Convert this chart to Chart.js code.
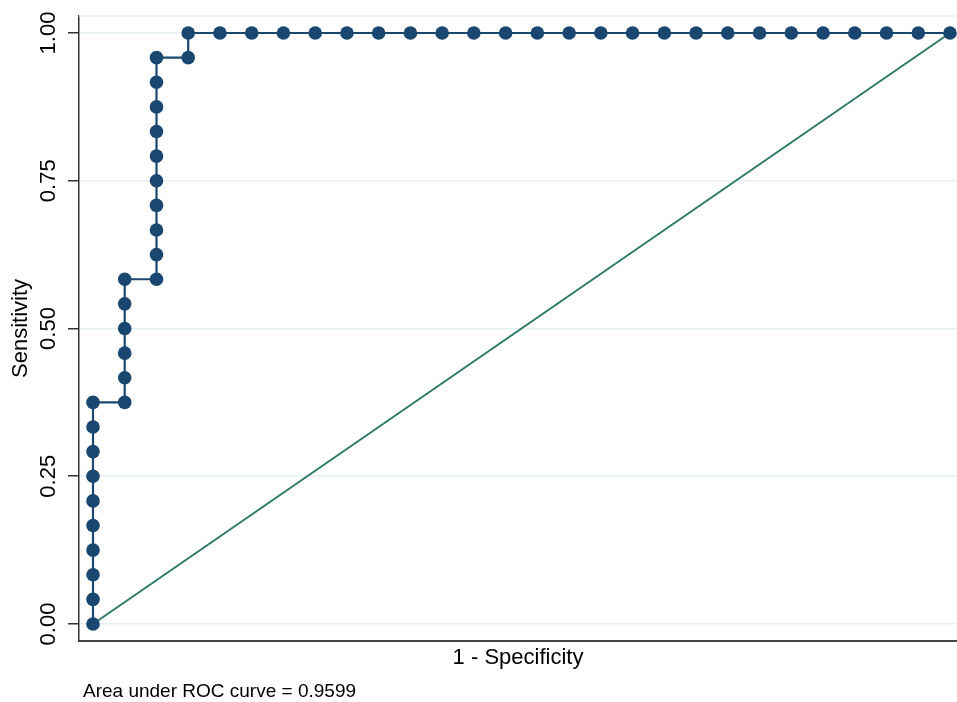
<!DOCTYPE html>
<html>
<head>
<meta charset="utf-8">
<title>ROC curve</title>
<script src="https://cdn.jsdelivr.net/npm/chart.js@4/dist/chart.umd.min.js"></script>
<style>
  html, body { margin: 0; padding: 0; background: #fff; }
  canvas { display: block; }
</style>
</head>
<body>
<canvas id="roc" width="957" height="702"></canvas>
<script>
// 1 - specificity for each cutoff (27 negatives)
const fpr = [
  0, 0, 0, 0, 0, 0, 0, 0, 0, 0,
  0.0370, 0.0370, 0.0370, 0.0370, 0.0370, 0.0370,
  0.0741, 0.0741, 0.0741, 0.0741, 0.0741, 0.0741, 0.0741, 0.0741, 0.0741, 0.0741,
  0.1111, 0.1111,
  0.1481, 0.1852, 0.2222, 0.2593, 0.2963, 0.3333, 0.3704, 0.4074, 0.4444, 0.4815,
  0.5185, 0.5556, 0.5926, 0.6296, 0.6667, 0.7037, 0.7407, 0.7778, 0.8148, 0.8519,
  0.8889, 0.9259, 0.9630, 1.0000
];
// sensitivity for each cutoff (24 positives)
const tpr = [
  0, 0.0417, 0.0833, 0.1250, 0.1667, 0.2083, 0.2500, 0.2917, 0.3333, 0.3750,
  0.3750, 0.4167, 0.4583, 0.5000, 0.5417, 0.5833,
  0.5833, 0.6250, 0.6667, 0.7083, 0.7500, 0.7917, 0.8333, 0.8750, 0.9167, 0.9583,
  0.9583, 1.0000,
  1, 1, 1, 1, 1, 1, 1, 1, 1, 1,
  1, 1, 1, 1, 1, 1, 1, 1, 1, 1,
  1, 1, 1, 1
];
// 45 degree reference line
const refX = [0, 1];
const refY = [0, 1];
const yTicks = [0, 0.25, 0.5, 0.75, 1];
const aucText = 'Area under ROC curve = 0.9599';

const FONT = '"Liberation Sans", Arial, Helvetica, sans-serif';
const NAVY = '#1a476f';
const TEAL = '#2c7a68';
const GRID = '#e6eff1';

// light frame line on top of the plot region + footnote
const extras = {
  id: 'extras',
  beforeDatasetsDraw(chart) {
    const { ctx, chartArea } = chart;
    ctx.save();
    ctx.strokeStyle = GRID;
    ctx.lineWidth = 1.5;
    ctx.beginPath();
    ctx.moveTo(chartArea.left, chartArea.top);
    ctx.lineTo(chartArea.right, chartArea.top);
    ctx.stroke();
    ctx.restore();
  },
  afterDraw(chart) {
    const { ctx } = chart;
    ctx.save();
    ctx.fillStyle = '#000';
    ctx.font = '19px ' + FONT;
    ctx.textBaseline = 'middle';
    ctx.textAlign = 'left';
    ctx.fillText(aucText, 83, 692);
    ctx.restore();
  }
};

new Chart(document.getElementById('roc'), {
  type: 'scatter',
  data: {
    datasets: [
      {
        data: fpr.map((x, i) => ({ x: x, y: tpr[i] })),
        showLine: true,
        borderColor: NAVY,
        borderWidth: 2.2,
        pointRadius: 6.8,
        pointBackgroundColor: NAVY,
        pointBorderWidth: 0,
        tension: 0,
        clip: false
      },
      {
        data: refX.map((x, i) => ({ x: x, y: refY[i] })),
        showLine: true,
        borderColor: TEAL,
        borderWidth: 2,
        pointRadius: 0,
        tension: 0,
        clip: false
      }
    ]
  },
  options: {
    responsive: false,
    animation: false,
    layout: { autoPadding: false, padding: { top: 16, right: 0, bottom: 31, left: 0 } },
    plugins: {
      legend: { display: false },
      tooltip: { enabled: false }
    },
    scales: {
      x: {
        type: 'linear',
        min: -0.016336,
        max: 1.008168,
        grid: { display: false },
        border: { display: true, color: '#444', width: 2 },
        ticks: { display: false },
        title: {
          display: true,
          text: '1 - Specificity',
          color: '#000',
          font: { family: FONT, size: 22 },
          padding: 0
        },
        afterFit(scale) { scale.height = 30; }
      },
      y: {
        type: 'linear',
        min: -0.028765,
        max: 1.028765,
        afterBuildTicks(scale) {
          scale.ticks = yTicks.map(v => ({ value: v }));
        },
        grid: {
          color: GRID,
          lineWidth: 1.5,
          tickColor: '#333',
          tickLength: 11
        },
        border: { display: true, color: '#333', width: 1.5 },
        ticks: {
          minRotation: 90,
          maxRotation: 90,
          crossAlign: 'center',
          padding: -2,
          color: '#000',
          font: { family: FONT, size: 22 },
          callback: v => v.toFixed(2)
        },
        title: {
          display: true,
          text: 'Sensitivity',
          color: '#000',
          font: { family: FONT, size: 22 },
          padding: { top: 8, bottom: 0 }
        },
        afterFit(scale) { scale.width = 79; }
      }
    }
  },
  plugins: [extras]
});
</script>
</body>
</html>
